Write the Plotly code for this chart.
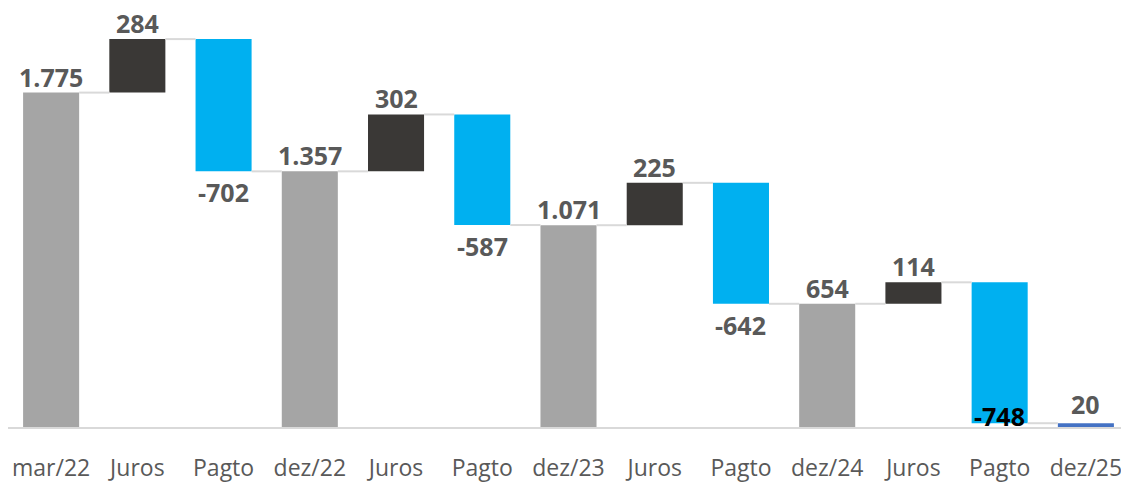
import plotly.graph_objects as go

categories = ["mar/22", "Juros", "Pagto", "dez/22", "Juros", "Pagto", "dez/23",
              "Juros", "Pagto", "dez/24", "Juros", "Pagto", "dez/25"]
values = [1775, 284, -702, 1357, 302, -587, 1071, 225, -642, 654, 114, -748, 20]
kinds = ["total", "rel", "rel", "total", "rel", "rel", "total",
         "rel", "rel", "total", "rel", "rel", "total"]

C_TOTAL = "#A5A5A5"
C_UP = "#3A3836"
C_DOWN = "#00B0F0"
C_LAST = "#4472C4"
C_TEXT = "#595959"
C_CONN = "#D9D9D9"

bases, heights, ends, colors = [], [], [], []
level = 0
for i, (v, k) in enumerate(zip(values, kinds)):
    if k == "total":
        bases.append(0)
        heights.append(v)
        level = v
        colors.append(C_LAST if i == len(values) - 1 else C_TOTAL)
    else:
        bases.append(level)
        heights.append(v)
        level = level + v
        colors.append(C_UP if v > 0 else C_DOWN)
    ends.append(level)

x = list(range(len(categories)))
BW = 0.65

fig = go.Figure()
fig.add_trace(go.Bar(x=x, y=heights, base=bases, marker=dict(color=colors, line=dict(width=0)),
                     width=BW, hoverinfo="skip", showlegend=False))

# connectors
cx, cy = [], []
for i in range(len(values) - 1):
    cx += [i + BW / 2, i + 1 - BW / 2, None]
    cy += [ends[i], ends[i], None]
fig.add_trace(go.Scatter(x=cx, y=cy, mode="lines", line=dict(color=C_CONN, width=2),
                         hoverinfo="skip", showlegend=False))

def fmt(v):
    return f"{v:,}".replace(",", ".")

for i, (v, k) in enumerate(zip(values, kinds)):
    top = max(bases[i], bases[i] + heights[i])
    bot = min(bases[i], bases[i] + heights[i])
    if k == "total" or v > 0:
        fig.add_annotation(x=i, y=top, text=f"<b>{fmt(v)}</b>", showarrow=False,
                           yanchor="bottom", yshift=-3 if i < len(values) - 1 else 0,
                           font=dict(size=25, color=C_TEXT))
    elif i == len(values) - 2:
        fig.add_annotation(x=i, y=bot, text=f"<b>{fmt(v)}</b>", showarrow=False,
                           yanchor="middle", yshift=7, font=dict(size=25, color="#000000"))
    else:
        fig.add_annotation(x=i, y=bot, text=f"<b>{fmt(v)}</b>", showarrow=False,
                           yanchor="top", yshift=-2, font=dict(size=25, color=C_TEXT))

fig.update_layout(
    width=1121, height=475,
    margin=dict(l=0, r=0, t=0, b=54),
    paper_bgcolor="white", plot_bgcolor="white",
    font=dict(family="Open Sans", color=C_TEXT),
    bargap=0.35,
    xaxis=dict(tickmode="array", tickvals=x, ticktext=categories, range=[-0.5, len(x) - 0.5],
               showgrid=False, zeroline=False, showline=True, linecolor="#D9D9D9", linewidth=2,
               ticks="", tickfont=dict(size=23, color=C_TEXT), ticklabelstandoff=19),
    yaxis=dict(range=[0, 2224], visible=False),
)

fig.write_html("out.html")
